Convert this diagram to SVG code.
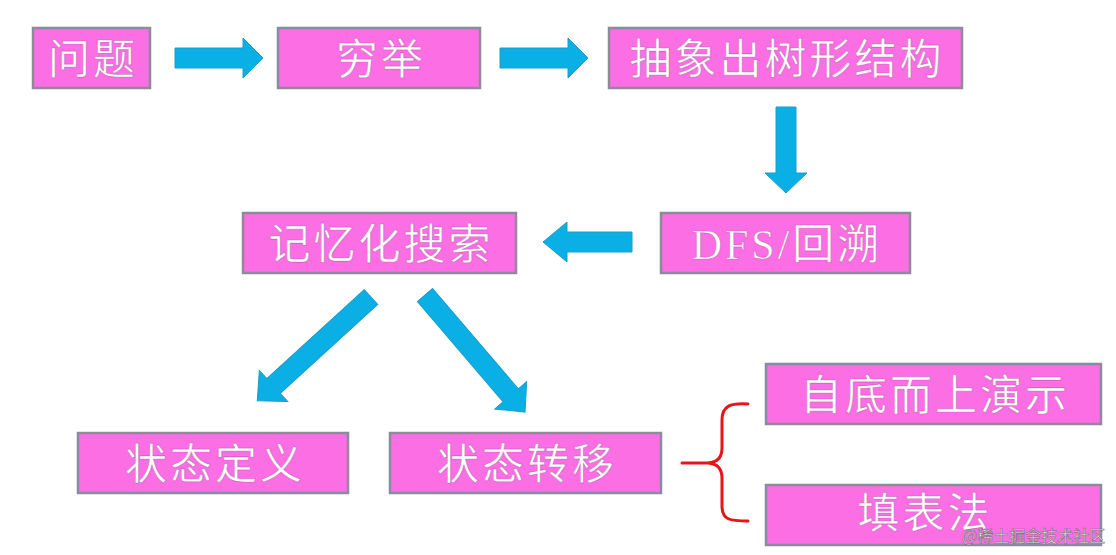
<svg xmlns="http://www.w3.org/2000/svg" width="1116" height="555" viewBox="0 0 1116 555">
<style>
.box{fill:#fb6ee4;stroke:#8c8a9c;stroke-width:2.5}
.lbl{font-family:"Liberation Serif","Noto Sans CJK SC",serif;font-size:42px;fill:#ffffff;stroke:#9a3f8c;stroke-width:0.7;stroke-opacity:0.5;text-anchor:middle;letter-spacing:3px}
.arr{fill:#0aafe6;stroke:#1a9ec8;stroke-width:1}
.brace{fill:none;stroke:#e8141c;stroke-width:3;stroke-linecap:round;stroke-linejoin:round}
.wm{font-family:"Noto Sans CJK SC",sans-serif;font-size:16px;fill:#f2f2f2;stroke:#555;stroke-width:0.7;stroke-opacity:0.7}
</style>
<rect width="1116" height="555" fill="#ffffff"/>
<g id="connectors">
<path class="arr" d="M175,48 L243,48 L243,38 L263,58 L243,78 L243,68 L175,68 Z"/>
<path class="arr" d="M500,48 L568,48 L568,38 L588,58 L568,78 L568,68 L500,68 Z"/>
<path class="arr" d="M776,107 L796,107 L796,173 L807,173 L786,193 L765,173 L776,173 Z"/>
<path class="arr" d="M632,232 L567,232 L567,222 L543,242 L567,262 L567,252 L632,252 Z"/>
<path class="arr" transform="translate(371,297) rotate(137.6)" d="M0,-10 L132,-10 L132,-21 L154,0 L132,21 L132,10 L0,10 Z"/>
<path class="arr" transform="translate(425,295) rotate(49.5)" d="M0,-10 L132,-10 L132,-21 L154,0 L132,21 L132,10 L0,10 Z"/>
<path class="brace" d="M748,404 C730,403 722,406 722,420 L722,448 Q722,462 708,463 L682,463 M708,463 Q722,464 722,478 L722,506 C722,520 730,521 748,521"/>
</g>
<g id="n1"><rect class="box" x="33" y="28" width="117" height="60"/><text class="lbl" x="93" y="74">问题</text></g>
<g id="n2"><rect class="box" x="278" y="28" width="202" height="60"/><text class="lbl" x="381" y="74">穷举</text></g>
<g id="n3"><rect class="box" x="609" y="28" width="353" height="60"/><text class="lbl" x="787" y="74">抽象出树形结构</text></g>
<g id="n4"><rect class="box" x="661" y="213" width="249" height="60"/><text class="lbl" x="787" y="259">DFS/回溯</text></g>
<g id="n5"><rect class="box" x="243" y="213" width="273" height="60"/><text class="lbl" x="381" y="259">记忆化搜索</text></g>
<g id="n6"><rect class="box" x="78" y="433" width="270" height="60"/><text class="lbl" x="215" y="479">状态定义</text></g>
<g id="n7"><rect class="box" x="390" y="433" width="271" height="60"/><text class="lbl" x="527" y="479">状态转移</text></g>
<g id="n8"><rect class="box" x="766" y="364" width="335" height="60"/><text class="lbl" x="935" y="410">自底而上演示</text></g>
<g id="n9"><rect class="box" x="766" y="485" width="335" height="60"/><text class="lbl" x="925" y="528">填表法</text></g>
<text class="wm" x="962" y="542">@稀土掘金技术社区</text>
</svg>
